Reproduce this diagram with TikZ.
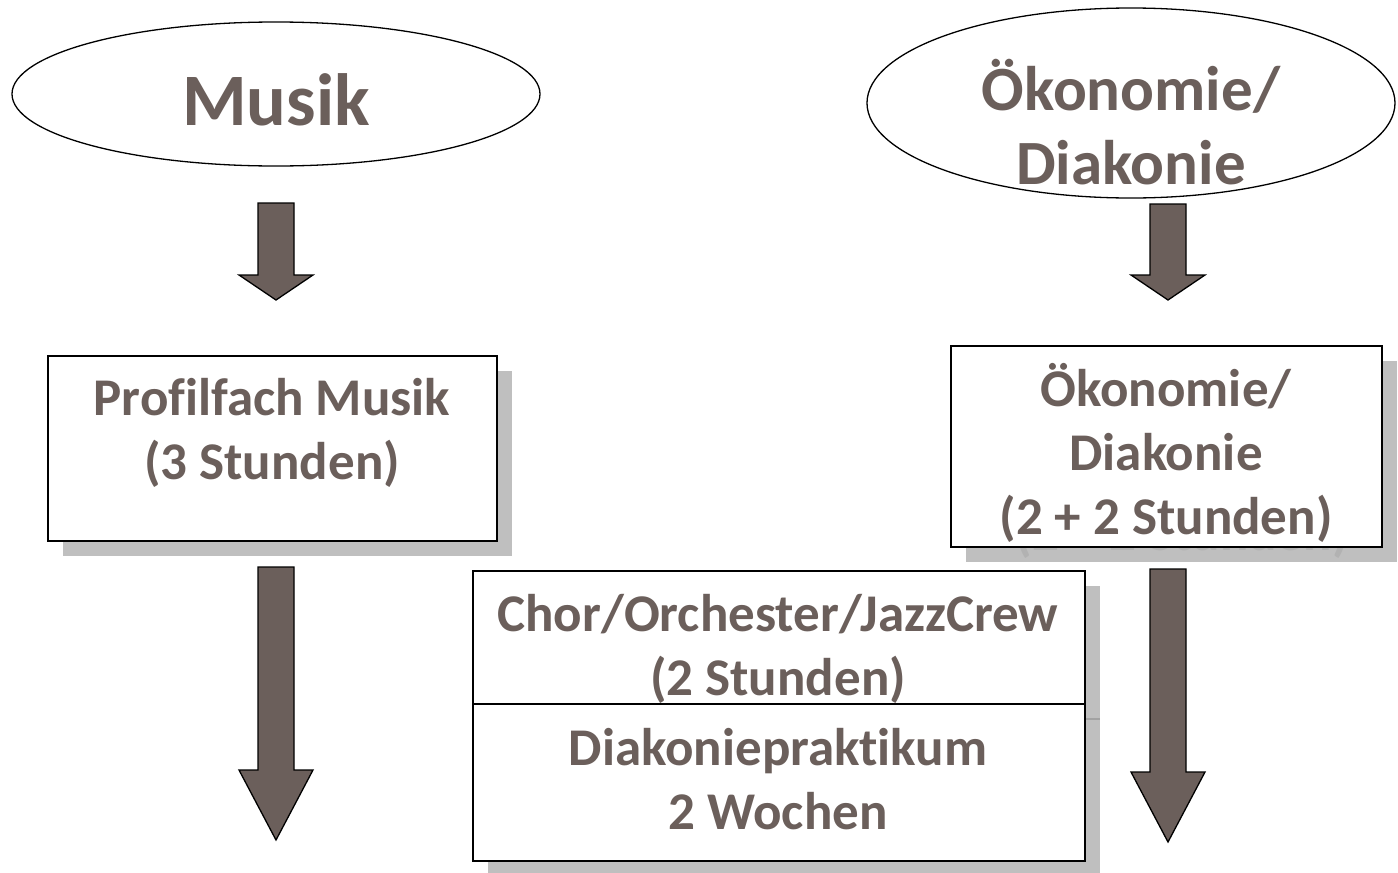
\documentclass[tikz,border=0pt]{standalone}
\usepackage{fontspec}
\setmainfont[Ligatures={NoCommon}]{Carlito}
\usetikzlibrary{shapes.geometric}
\definecolor{txt}{RGB}{107,95,91}
\definecolor{shd}{RGB}{191,191,191}
\definecolor{tshd}{RGB}{178,178,178}
\tikzset{
  oval/.style={draw=black, line width=1.3pt, ellipse, fill=white, inner sep=0pt},
  boxx/.style={draw=black, line width=1.5pt, fill=white, inner sep=0pt, anchor=north west},
  shadowbox/.style={fill=shd, draw=none, inner sep=0pt, anchor=north west},
  lbl/.style={text=txt, font=\bfseries\fontsize{53}{64}\selectfont, align=center, inner sep=0pt},
  biglbl/.style={text=txt, font=\bfseries\fontsize{74}{80}\selectfont, align=center, inner sep=0pt},
  medlbl/.style={text=txt, font=\bfseries\fontsize{63}{74}\selectfont, align=center, inner sep=0pt},
  blk/.style={fill=txt, draw=black, line width=1.3pt, line join=miter}
}
\newcommand\blkarrow[5]{% cx, ytop, yhead, ytip, name
  \draw[blk] (#1-18,#2) -- (#1+18,#2) -- (#1+18,#3) -- (#1+37,#3) -- (#1,#4) coordinate (#5) -- (#1-37,#3) -- (#1-18,#3) -- cycle;}
\begin{document}
\begin{tikzpicture}[x=1pt,y=-1pt]
\useasboundingbox[fill=white] (0,0) rectangle (1398,873);
% ellipses
\node[oval, minimum width=528pt, minimum height=144pt] (musik) at (276,94) {};
\node[biglbl] (musiklbl) at (276,100) {Musik};
\node[oval, minimum width=528pt, minimum height=190pt] (oeko) at (1131,103) {};
\node[medlbl] (oekolbl) at (1131,122) {Ökonomie/\\Diakonie};
% small arrows
\blkarrow{276}{203}{275}{300}{a1}
\blkarrow{1168}{204}{275}{300}{a2}
% Profilfach box
\node[shadowbox, minimum width=449pt, minimum height=185pt] (pshadow) at (63,371) {};
\node[boxx, minimum width=449pt, minimum height=185pt] (profil) at (47,355) {};
\node[lbl] (profillbl) at (272,433) {Profilfach Musik\\(3 Stunden)};
% Oekonomie box
\node[shadowbox, minimum width=431pt, minimum height=201pt] (oshadow) at (966,361) {};
\begin{scope}
\clip (950,546) rectangle (1398,562);
\node[lbl, text=tshd] (oshlbl) at (1182,469) {\phantom{Ö}\\\phantom{D}\\(2 + 2 Stunden)};
\end{scope}
\node[boxx, minimum width=431pt, minimum height=201pt] (oekobox) at (950,345) {};
\node[lbl] (oekoboxlbl) at (1166,453) {Ökonomie/\\Diakonie\\(2 + 2 Stunden)};
% big arrows
\blkarrow{276}{567}{770}{840}{a3}
\blkarrow{1168}{569}{772}{842}{a4}
% Chor / Diakonie boxes
\node[shadowbox, minimum width=612pt, minimum height=133pt] (cshadow) at (488,586) {};
\node[shadowbox, minimum width=612pt, minimum height=157pt] (dshadow) at (488,719) {};
\draw[line width=2pt, draw=shd!85!black] (cshadow.south west) -- (cshadow.south east);
\node[boxx, minimum width=612pt, minimum height=157pt] (diak) at (472,703) {};
\node[boxx, minimum width=612pt, minimum height=133pt] (chor) at (472,570) {};
\node[lbl] (chorlbl) at (778,649) {Chor/Orchester/JazzCrew\\(2 Stunden)};
\node[lbl] (diaklbl) at (778,779) {Diakoniepraktikum\\2 Wochen};
\end{tikzpicture}
\end{document}
